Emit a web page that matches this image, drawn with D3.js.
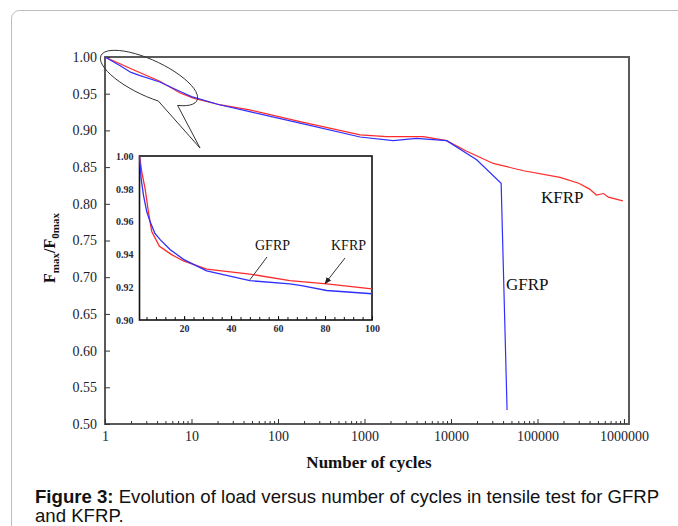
<!DOCTYPE html>
<html><head><meta charset="utf-8">
<script src="https://cdn.jsdelivr.net/npm/d3@7"></script>
<style>
html,body{margin:0;padding:0;background:#fff;}
svg{display:block;}
</style></head>
<body>
<svg id="chart" width="678" height="526"></svg>
<script>
// Normalised peak load F_max/F_0max against number of cycles (log scale)
const gfrpCycles = [1, 1.5, 2, 2.5, 4.3, 7.4, 10, 21, 47, 180, 890, 2150, 4000, 8900, 19800, 38000, 44500];
const gfrpLoad   = [1.0, 0.988, 0.979, 0.975, 0.966, 0.953, 0.946, 0.935, 0.9255, 0.910, 0.891, 0.886, 0.889, 0.886, 0.860, 0.828, 0.519];

const kfrpCycles = [1, 2, 4.3, 7.4, 10.5, 21, 47, 180, 890, 1800, 4800, 8900, 15000, 30800, 69000, 182000, 300000, 400000, 480000, 580000, 660000, 970000];
const kfrpLoad   = [1.0, 0.984, 0.967, 0.951, 0.944, 0.935, 0.928, 0.912, 0.894, 0.8915, 0.8915, 0.886, 0.872, 0.855, 0.845, 0.836, 0.828, 0.820, 0.812, 0.814, 0.809, 0.804];

// First hundred cycles (inset, linear scale)
const gfrpInsetCycles = [1, 1.7, 2.7, 4.1, 5.5, 7.5, 9.8, 14, 19.7, 29.6, 48, 65, 70, 80.7, 100];
const gfrpInsetLoad   = [1.0, 0.986, 0.976, 0.966, 0.960, 0.953, 0.949, 0.943, 0.937, 0.930, 0.924, 0.922, 0.921, 0.918, 0.916];
const kfrpInsetCycles = [1, 2, 3.4, 4.8, 6.2, 9.5, 14.5, 19.7, 29.6, 48, 65, 80.7, 100];
const kfrpInsetLoad   = [1.0, 0.990, 0.980, 0.966, 0.954, 0.945, 0.940, 0.936, 0.931, 0.928, 0.924, 0.922, 0.919];

const xTickValues = [1, 10, 100, 1000, 10000, 100000, 1000000];
const yTickValues = [0.50, 0.55, 0.60, 0.65, 0.70, 0.75, 0.80, 0.85, 0.90, 0.95, 1.00];
const insetXTickLabels = [20, 40, 60, 80, 100];
const insetYTickValues = [0.90, 0.92, 0.94, 0.96, 0.98, 1.00];

const RED = "#ff2a2a", BLUE = "#2f2fff", FRAME = "#5a5a5a";
const serif = "'Liberation Serif', 'Times New Roman', serif";
const sans = "'Liberation Sans', Arial, sans-serif";

const svg = d3.select("#chart");

// Figure panel border
svg.append("rect").attr("x", 11.5).attr("y", 10.5).attr("width", 700).attr("height", 560)
  .attr("rx", 8).attr("fill", "none").attr("stroke", "#bdbdbd").attr("stroke-width", 1);

// ---------- main plot ----------
const x = d3.scaleLog().domain([1, Math.pow(10, 6.058)]).range([105, 629]);
const y = d3.scaleLinear().domain([0.5, 1.0]).range([424, 57]);

const zip = (a, b) => a.map((c, i) => [c, b[i]]);
const line = d3.line().x(d => x(d[0])).y(d => y(d[1]));

// frame
svg.append("rect").attr("x", 105).attr("y", 57).attr("width", 524).attr("height", 367)
  .attr("fill", "none").attr("stroke", FRAME).attr("stroke-width", 2);

// x axis: decades with labels, minor ticks 2..9
const minor = [];
for (let d = 1; d <= 1e5; d *= 10) for (let k = 2; k <= 9; k++) minor.push(d * k);
const xAxisMinor = svg.append("g").attr("transform", "translate(0,424)")
  .call(d3.axisBottom(x).tickValues(minor).tickSize(-3).tickFormat(""));
const xAxis = svg.append("g").attr("transform", "translate(0,424)")
  .call(d3.axisBottom(x).tickValues(xTickValues).tickSize(-5).tickPadding(7).tickFormat(d3.format("d")));
[xAxisMinor, xAxis].forEach(g => {
  g.select(".domain").remove();
  g.selectAll(".tick line").attr("stroke", "#333").attr("stroke-width", 1);
});
xAxis.selectAll("text").attr("font-family", serif).attr("font-size", 14).attr("fill", "#1c1c2c");

const yAxis = svg.append("g").attr("transform", "translate(105,0)")
  .call(d3.axisLeft(y).tickValues(yTickValues).tickSize(-5).tickPadding(8).tickFormat(d3.format(".2f")));
yAxis.select(".domain").remove();
yAxis.selectAll(".tick line").attr("stroke", "#333");
yAxis.selectAll("text").attr("font-family", serif).attr("font-size", 14).attr("fill", "#1c1c2c");

// axis titles
svg.append("text").attr("x", 369).attr("y", 468).attr("text-anchor", "middle")
  .attr("font-family", serif).attr("font-weight", "bold").attr("font-size", 17)
  .attr("fill", "#111").text("Number of cycles");

const yt = svg.append("text").attr("transform", "translate(55,248) rotate(-90)")
  .attr("text-anchor", "middle").attr("font-family", serif).attr("font-weight", "bold")
  .attr("font-size", 16).attr("fill", "#111");
yt.append("tspan").text("F");
yt.append("tspan").attr("font-size", 11).attr("dy", 4).text("max");
yt.append("tspan").attr("dy", -4).text("/F");
yt.append("tspan").attr("font-size", 11).attr("dy", 4).text("0max");

// curves
svg.append("path").datum(zip(kfrpCycles, kfrpLoad)).attr("d", line)
  .attr("fill", "none").attr("stroke", RED).attr("stroke-width", 1.2);
svg.append("path").datum(zip(gfrpCycles, gfrpLoad)).attr("d", line)
  .attr("fill", "none").attr("stroke", BLUE).attr("stroke-width", 1.2);

svg.append("text").attr("x", 541).attr("y", 203).attr("font-family", serif)
  .attr("font-size", 17).attr("fill", "#111").text("KFRP");
svg.append("text").attr("x", 506).attr("y", 290).attr("font-family", serif)
  .attr("font-size", 17).attr("fill", "#111").text("GFRP");

// callout bubble around the early-cycle region
(function () {
  const cx = 149, cy = 78, a = 53, b = 18, th = 25 * Math.PI / 180;
  const pt = t => [cx + a * Math.cos(t) * Math.cos(th) - b * Math.sin(t) * Math.sin(th),
                   cy + a * Math.cos(t) * Math.sin(th) + b * Math.sin(t) * Math.cos(th)];
  const A = pt(70 * Math.PI / 180), B = pt(45 * Math.PI / 180), tip = [200, 148];
  const p = `M${B[0]},${B[1]} A${a},${b} ${25} 1 0 ${A[0]},${A[1]} L${tip[0]},${tip[1]} Z`;
  svg.append("path").attr("d", p).attr("fill", "none").attr("stroke", "#333").attr("stroke-width", 1);
})();

// ---------- inset ----------
const ix = d3.scaleLinear().domain([1, 100]).range([139.5, 372]);
const iy = d3.scaleLinear().domain([0.90, 1.00]).range([320, 156]);
const iline = d3.line().x(d => ix(d[0])).y(d => iy(d[1]));

svg.append("rect").attr("x", 139.5).attr("y", 156).attr("width", 232.5).attr("height", 164)
  .attr("fill", "#fff").attr("stroke", "#111").attr("stroke-width", 1.6);

const insetMinor = d3.range(4, 100, 4);
const ixMinor = svg.append("g").attr("transform", "translate(0,320)")
  .call(d3.axisBottom(ix).tickValues(insetMinor).tickSize(-3).tickFormat(""));
const ixAxis = svg.append("g").attr("transform", "translate(0,320)")
  .call(d3.axisBottom(ix).tickValues(insetXTickLabels).tickSize(-4).tickPadding(5).tickFormat(d3.format("d")));
const iyAxis = svg.append("g").attr("transform", "translate(139.5,0)")
  .call(d3.axisLeft(iy).tickValues(insetYTickValues).tickSize(0).tickPadding(6).tickFormat(d3.format(".2f")));
[ixMinor, ixAxis, iyAxis].forEach(g => {
  g.select(".domain").remove();
  g.selectAll(".tick line").attr("stroke", "#111");
  g.selectAll("text").attr("font-family", serif).attr("font-size", 10)
    .attr("font-weight", "bold").attr("fill", "#2a2a3a");
});

svg.append("path").datum(zip(kfrpInsetCycles, kfrpInsetLoad)).attr("d", iline)
  .attr("fill", "none").attr("stroke", RED).attr("stroke-width", 1.3);
svg.append("path").datum(zip(gfrpInsetCycles, gfrpInsetLoad)).attr("d", iline)
  .attr("fill", "none").attr("stroke", BLUE).attr("stroke-width", 1.3);

// labels with pointers onto the curves
svg.append("defs").append("marker").attr("id", "head").attr("viewBox", "0 0 10 10")
  .attr("refX", 9).attr("refY", 5).attr("markerWidth", 7).attr("markerHeight", 7)
  .attr("orient", "auto").append("path").attr("d", "M0,1 L10,5 L0,9 Z").attr("fill", "#222");

svg.append("text").attr("x", 255).attr("y", 250).attr("font-family", serif)
  .attr("font-size", 14).attr("fill", "#111").text("GFRP");
svg.append("text").attr("x", 331).attr("y", 250).attr("font-family", serif)
  .attr("font-size", 14).attr("fill", "#111").text("KFRP");
svg.append("line").attr("x1", 267).attr("y1", 257).attr("x2", ix(48)).attr("y2", iy(0.9245))
  .attr("stroke", "#333").attr("stroke-width", 1);
svg.append("line").attr("x1", 345).attr("y1", 258).attr("x2", ix(80)).attr("y2", iy(0.9222))
  .attr("stroke", "#333").attr("stroke-width", 1).attr("marker-end", "url(#head)");

// ---------- caption ----------
const cap = svg.append("text").attr("font-family", sans).attr("font-size", 18.6).attr("fill", "#111");
const l1 = cap.append("tspan").attr("x", 35).attr("y", 503);
l1.append("tspan").attr("font-weight", "bold").text("Figure 3:");
l1.append("tspan").text(" Evolution of load versus number of cycles in tensile test for GFRP");
cap.append("tspan").attr("x", 35).attr("y", 522).text("and KFRP.");
</script>
</body></html>
